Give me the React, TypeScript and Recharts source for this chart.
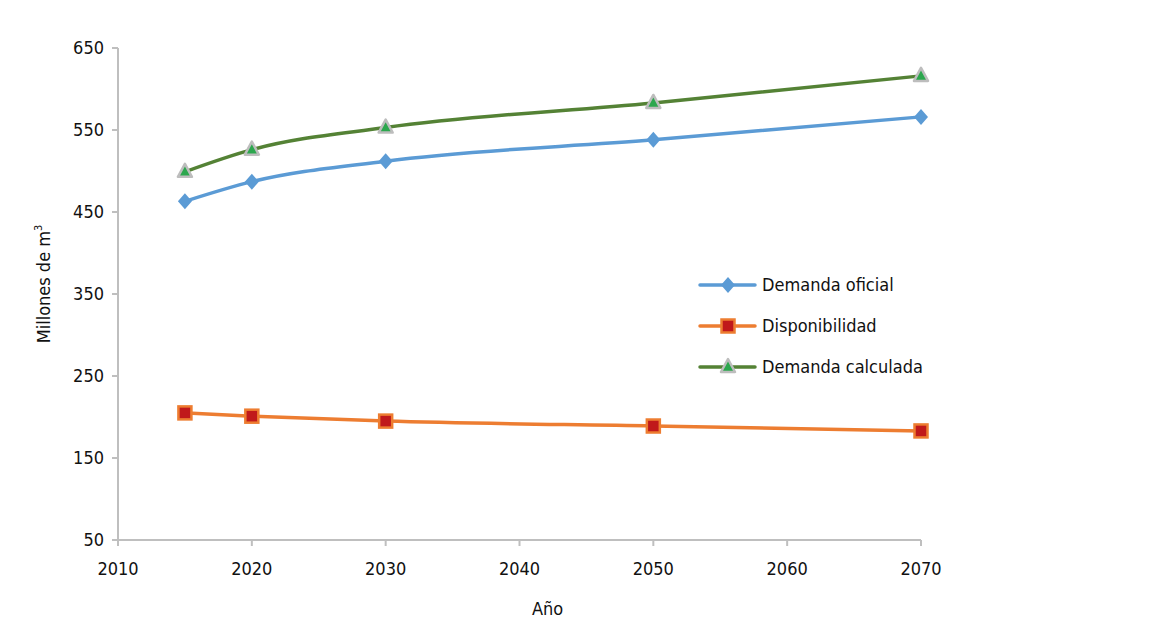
import React from 'react';
import { LineChart, Line, XAxis, YAxis, Label } from 'recharts';

const years = [2015, 2020, 2030, 2050, 2070];
const demandaOficial = [463, 487, 512, 538, 566];
const disponibilidad = [205, 201, 195, 189, 183];
const demandaCalculada = [499, 526, 553, 583, 616];
const xTicks = [2010, 2020, 2030, 2040, 2050, 2060, 2070];
const yTicks = [50, 150, 250, 350, 450, 550, 650];

const data = years.map((y, i) => ({
  year: y,
  oficial: demandaOficial[i],
  disp: disponibilidad[i],
  calc: demandaCalculada[i],
}));

const FONT = '"DejaVu Sans Condensed", "DejaVu Sans", sans-serif';
const BLUE = '#5B9BD5';
const ORANGE = '#ED7D31';
const GREEN = '#548235';

const Diamond = ({ cx, cy }: any) => (
  <polygon points={`${cx},${cy - 8} ${cx + 7},${cy} ${cx},${cy + 8} ${cx - 7},${cy}`} fill={BLUE} />
);
const Square = ({ cx, cy }: any) => (
  <rect x={cx - 6.5} y={cy - 6.5} width={13} height={13} fill="#C0191B" stroke={ORANGE} strokeWidth={2.5} />
);
const Triangle = ({ cx, cy }: any) => (
  <polygon points={`${cx},${cy - 8} ${cx + 7},${cy + 5} ${cx - 7},${cy + 5}`} fill="#2CA74E" stroke="#BDBDBD" strokeWidth={2.5} strokeLinejoin="round" />
);

const legendItems = [
  { name: 'Demanda oficial', color: BLUE, Marker: Diamond },
  { name: 'Disponibilidad', color: ORANGE, Marker: Square },
  { name: 'Demanda calculada', color: GREEN, Marker: Triangle },
];

const txt = { fontFamily: FONT, fontStretch: 'condensed' as const };

const Legend = () => (
  <svg style={{ position: 'absolute', left: 682, top: 262 }} width={270} height={130}>
    {legendItems.map((it, i) => {
      const y = 15 + i * 41;
      const M = it.Marker;
      return (
        <g key={it.name}>
          <line x1={10} x2={65} y1={y} y2={y} stroke={it.color} strokeWidth={3.5} strokeLinecap="round" />
          <M cx={38} cy={y} />
          <text x={72} y={y + 6} style={txt} fontSize={18} fill="#111">{it.name}</text>
        </g>
      );
    })}
  </svg>
);

export default function App() {
  const tickStyle = { ...txt, fontSize: 18, fill: '#111' };
  return (
    <div style={{ position: 'relative', width: 1149, height: 633, background: '#fff' }}>
      <LineChart width={1149} height={633} data={data} margin={{ top: 40, right: 236, bottom: 41, left: 50 }}>
        <XAxis
          dataKey="year"
          type="number"
          domain={[2010, 2070]}
          ticks={xTicks}
          axisLine={{ stroke: '#BFBFBF', strokeWidth: 2 }}
          tickLine={{ stroke: '#BFBFBF', strokeWidth: 2 }}
          tickSize={6}
          tick={tickStyle}
          tickMargin={16}
          height={60}
        >
          <Label
            content={({ viewBox }: any) => (
              <text x={viewBox.x + viewBox.width / 2 + 28} y={viewBox.y + 75} textAnchor="middle" style={txt} fontSize={18} fill="#111">Año</text>
            )}
          />
        </XAxis>
        <YAxis
          type="number"
          domain={[50, 650]}
          ticks={yTicks}
          axisLine={{ stroke: '#BFBFBF', strokeWidth: 2 }}
          tickLine={{ stroke: '#BFBFBF', strokeWidth: 2 }}
          tickSize={6}
          tick={tickStyle}
          tickMargin={8}
          width={60}
        >
          <Label
            content={({ viewBox }: any) => {
              const cx = 42;
              const cy = viewBox.y + viewBox.height / 2 - 10;
              return (
                <text x={cx} y={cy} transform={`rotate(-90 ${cx} ${cy})`} textAnchor="middle" style={txt} fontSize={18} fill="#111">
                  Millones de m<tspan fontSize={11} dy={-8}>3</tspan>
                </text>
              );
            }}
          />
        </YAxis>
        <Line dataKey="oficial" type="monotone" stroke={BLUE} strokeWidth={3.5} dot={<Diamond />} isAnimationActive={false} />
        <Line dataKey="disp" type="monotone" stroke={ORANGE} strokeWidth={3.5} dot={<Square />} isAnimationActive={false} />
        <Line dataKey="calc" type="monotone" stroke={GREEN} strokeWidth={3.5} dot={<Triangle />} isAnimationActive={false} />
      </LineChart>
      <Legend />
    </div>
  );
}
